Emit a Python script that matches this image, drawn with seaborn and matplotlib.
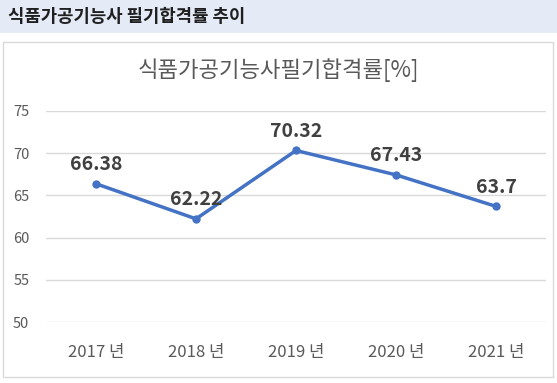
import matplotlib
matplotlib.use("Agg")
import matplotlib.pyplot as plt
import seaborn as sns
from matplotlib.patches import Rectangle

# chart data
years = ["2017 년", "2018 년", "2019 년", "2020 년", "2021 년"]
pass_rates = [66.38, 62.22, 70.32, 67.43, 63.7]
rate_labels = ["66.38", "62.22", "70.32", "67.43", "63.7"]
y_ticks = [50, 55, 60, 65, 70, 75]

header_text = "식품가공기능사 필기합격률 추이"
chart_title = "식품가공기능사필기합격률[%]"

sns.set_theme(style="white")
plt.rcParams["font.family"] = ["Noto Sans CJK KR", "DejaVu Sans"]

W, H = 557, 383
fig = plt.figure(figsize=(W / 100, H / 100), dpi=100)

# header band and chart frame (figure coordinates)
fig.patches.append(Rectangle((0, 1 - 33 / H), 1, 33 / H, transform=fig.transFigure,
                             facecolor="#e4ebf6", edgecolor="none", zorder=-2))
fig.patches.append(Rectangle((3 / W, 1 - 377 / H), 550 / W, 335 / H, transform=fig.transFigure,
                             facecolor="white", edgecolor="#d9d9d9", linewidth=1, zorder=-2))
fig.text(8 / W, 1 - 17 / H, header_text, fontsize=12.8, fontweight="bold",
         color="#1f1f1f", va="center", ha="left")
fig.text(278 / W, 1 - 70 / H, chart_title, fontsize=16, color="#595959",
         va="center", ha="center")

ax = fig.add_axes([46 / W, 1 - 322 / H, 500 / W, 211 / H])
ax.set_zorder(2)
ax.set_facecolor("none")

sns.lineplot(x=years, y=pass_rates, sort=False, marker="o", markersize=6,
             markeredgewidth=0, color="#4472c4", linewidth=2.5, ax=ax)

for i, (v, lab) in enumerate(zip(pass_rates, rate_labels)):
    ax.annotate(lab, (i, v), xytext=(0, 7), textcoords="offset points",
                ha="center", va="bottom", fontsize=14, fontweight="bold", color="#404040")

ax.set_ylim(50, 75)
ax.set_xlim(-0.5, len(years) - 0.5)
ax.set_yticks(y_ticks)
ax.yaxis.grid(True, color="#d9d9d9", linewidth=1)
ax.xaxis.grid(False)
for s in ax.spines.values():
    s.set_visible(False)
ax.tick_params(axis="y", length=0, pad=12, labelsize=10.5, labelcolor="#595959")
ax.tick_params(axis="x", length=0, pad=16, labelsize=12, labelcolor="#595959")
ax.set_xlabel("")
ax.set_ylabel("")

fig.savefig("out.png", dpi=100)
